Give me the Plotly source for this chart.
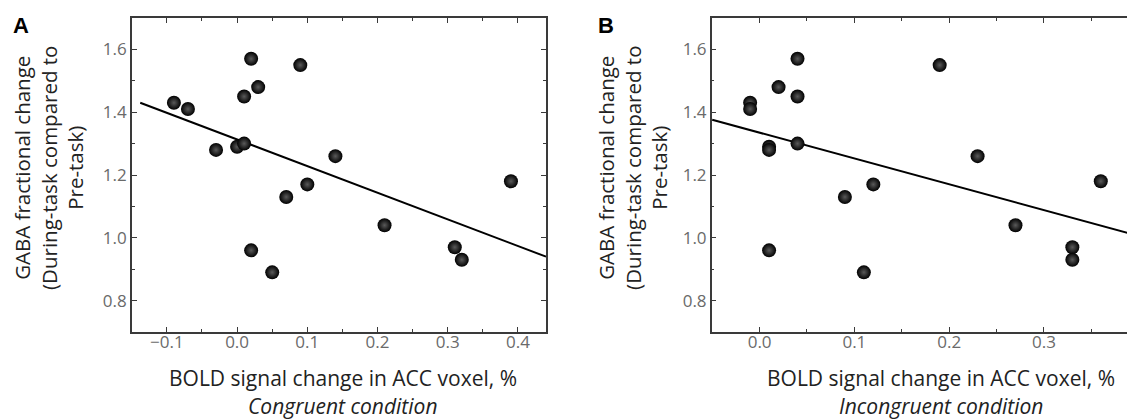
import plotly.graph_objects as go

# ---- data ----
gaba_a = [1.43, 1.41, 1.28, 1.29, 1.30, 1.45, 1.57, 1.48, 0.96, 0.89, 1.13, 1.55, 1.17, 1.26, 1.04, 0.97, 0.93, 1.18]
bold_congruent = [-0.09, -0.07, -0.03, 0.00, 0.01, 0.01, 0.02, 0.03, 0.02, 0.05, 0.07, 0.09, 0.10, 0.14, 0.21, 0.31, 0.32, 0.39]

gaba_b = [1.43, 1.41, 1.29, 1.28, 1.48, 1.57, 1.45, 1.30, 0.96, 1.13, 1.17, 0.89, 1.55, 1.26, 1.04, 0.97, 0.93, 1.18]
bold_incongruent = [-0.01, -0.01, 0.01, 0.01, 0.02, 0.04, 0.04, 0.04, 0.01, 0.09, 0.12, 0.11, 0.19, 0.23, 0.27, 0.33, 0.33, 0.36]

fit_a_x = [-0.138, 0.44]
fit_a_y = [1.43, 0.94]
fit_b_x = [-0.05, 0.394]
fit_b_y = [1.376, 1.011]

y_title = "GABA fractional change<br>(During-task compared to<br>Pre-task)"
x_title = "BOLD signal change in ACC voxel, %"
cond_a = "Congruent condition"
cond_b = "Incongruent condition"

# the page body has an 8 px margin, so the figure starts at (8, 8) on screen
OFF = 8
W, H = 1135 - OFF, 420 - OFF
FONT = "Open Sans"

def px(x):
    return (x - OFF) / W

def py(y):
    return 1 - (y - OFF) / H

marker = dict(size=14, color="black", line=dict(width=0),
              gradient=dict(type="radial", color="#5a5a5a"))

fig = go.Figure()
fig.add_trace(go.Scatter(x=fit_a_x, y=fit_a_y, mode="lines", line=dict(color="black", width=2),
                         xaxis="x", yaxis="y", showlegend=False, hoverinfo="skip"))
fig.add_trace(go.Scatter(x=bold_congruent, y=gaba_a, mode="markers", marker=marker,
                         xaxis="x", yaxis="y", showlegend=False))
fig.add_trace(go.Scatter(x=fit_b_x, y=fit_b_y, mode="lines", line=dict(color="black", width=2),
                         xaxis="x2", yaxis="y2", showlegend=False, hoverinfo="skip"))
fig.add_trace(go.Scatter(x=bold_incongruent, y=gaba_b, mode="markers", marker=marker,
                         xaxis="x2", yaxis="y2", showlegend=False))

axis_common = dict(showline=True, linecolor="#3a3a3a", linewidth=1.5, mirror="allticks",
                   ticks="inside", ticklen=5, tickwidth=1.3, tickcolor="#3a3a3a",
                   showgrid=False, zeroline=False, tickformat=".1f",
                   tickfont=dict(family=FONT, size=17, color="#6a6a6a"))

minor_x = dict(dtick=0.05, tick0=0, ticks="inside", ticklen=3, tickcolor="#3a3a3a", showgrid=False)
minor_y = dict(dtick=0.1, tick0=0.8, ticks="inside", ticklen=3, tickcolor="#3a3a3a", showgrid=False)

ydom = [py(332), py(18)]
fig.update_layout(
    width=W, height=H,
    margin=dict(l=0, r=0, t=0, b=0),
    paper_bgcolor="white", plot_bgcolor="white",
    xaxis=dict(domain=[px(132), px(547)], range=[-0.15, 0.44], anchor="y",
               dtick=0.1, tick0=0, minor=minor_x, ticklabelstandoff=-6, **axis_common),
    yaxis=dict(domain=ydom, range=[0.7, 1.7], anchor="x",
               dtick=0.2, tick0=0.8, minor=minor_y, **axis_common),
    xaxis2=dict(domain=[px(713), 1.0], range=[-0.0505, 0.394], anchor="y2",
                dtick=0.1, tick0=0, minor=minor_x, ticklabelstandoff=-6, **axis_common),
    yaxis2=dict(domain=ydom, range=[0.7, 1.7], anchor="x2",
                dtick=0.2, tick0=0.8, minor=minor_y, **axis_common),
)

annots = []
# panel letters
for letter, xl in (("A", 11), ("B", 597)):
    annots.append(dict(text="<b>%s</b>" % letter, x=px(xl), y=py(11), xref="paper", yref="paper",
                       xanchor="left", yanchor="top", showarrow=False,
                       font=dict(family="Liberation Sans", size=22, color="black")))
# y titles
for xc in (48, 633):
    annots.append(dict(text=y_title, x=px(xc), y=py(168), xref="paper", yref="paper",
                       xanchor="center", yanchor="middle", textangle=-90, showarrow=False,
                       font=dict(family=FONT, size=20.5, color="#222222")))
# x titles
for xc, cond in ((344, cond_a), (943, cond_b)):
    annots.append(dict(text=x_title, x=px(xc), y=py(378), xref="paper", yref="paper",
                       xanchor="center", yanchor="middle", showarrow=False,
                       font=dict(family=FONT, size=21, color="#222222")))
    annots.append(dict(text="<i>%s</i>" % cond, x=px(xc), y=py(406), xref="paper", yref="paper",
                       xanchor="center", yanchor="middle", showarrow=False,
                       font=dict(family=FONT, size=21, color="#222222")))
fig.update_layout(annotations=annots)

fig.write_html("out.html")
